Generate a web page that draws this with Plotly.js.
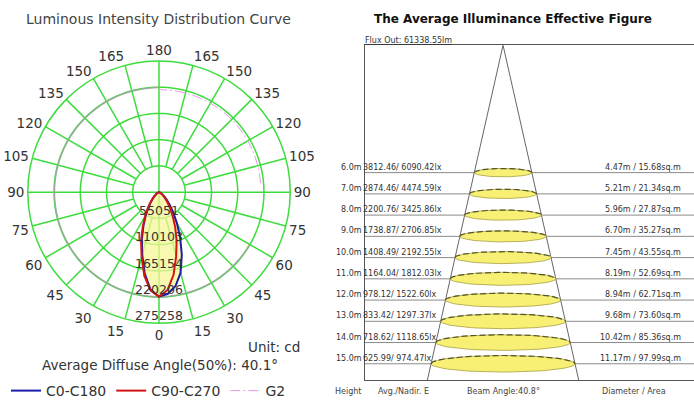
<!DOCTYPE html>
<html><head><meta charset="utf-8">
<script src="https://cdn.plot.ly/plotly-3.0.1.min.js"></script>
<style>html,body{margin:0;padding:0;background:#fff}#chart{width:694px;height:407px}</style>
</head><body><div id="chart"></div><script>
// ---------- Luminous intensity data (cd) ----------
const angles   = [0,5,10,15,20,25,30,35,40,45,50,55,60,65,70,75,80,85,90];
const c0Side   = [219255,214000,200000,175000,140000,105000,75000,52000,35000,23000,15000,9000,5000,2800,1300,500,200,60,0];
const c180Side = [219255,205000,173000,136000,105000,77000,55000,38000,26000,17000,11000,7000,4000,2200,1000,400,150,40,0];
const c90Side  = [219255,206000,176000,139000,108000,80000,57000,40000,27000,18000,12000,7500,4500,2500,1200,500,200,50,0];
const c270Side = [219255,207000,178000,141000,110000,81000,58000,41000,28000,18500,12000,7500,4500,2500,1200,500,200,50,0];
const g2Angles = [95,100,105,110,115,120,125,130,135,140,145,150,155,160,165,170,175,180];
const g2Values = [214000,214200,214500,214800,215000,215200,215400,215500,215600,215600,215600,215500,215400,215300,215200,215100,215000,215000];
const peakIntensity = 219255;
const ringValues = [55051,110103,165154,220206,275258];
const angleTicks = [0,15,30,45,60,75,90,105,120,135,150,165,180,195,210,225,240,255,270,285,300,315,330,345];
const angleTickText = ['0','15','30','45','60','75','90','105','120','135','150','165','180','165','150','135','120','105','90','75','60','45','30','15'];
const diffuseAngle = 40.1;

// ---------- Illuminance data ----------
const heights   = [6,7,8,9,10,11,12,13,14,15];
const avgLux    = [3812.46,2874.46,2200.76,1738.87,1408.49,1164.04,978.12,833.42,718.62,625.99];
const nadirLux  = [6090.42,4474.59,3425.86,2706.85,2192.55,1812.03,1522.60,1297.37,1118.65,974.47];
const diameters = [4.47,5.21,5.96,6.70,7.45,8.19,8.94,9.68,10.42,11.17];
const areas     = [15.68,21.34,27.87,35.27,43.55,52.69,62.71,73.60,85.36,97.99];
const beamAngle = 40.8;
const fluxOut   = 61338.55;

// ---------- styling ----------
const FONT = 'DejaVu Sans, Verdana, sans-serif';
const GREEN = '#3ddc3d';
const W = 694, H = 407;
const rMax = ringValues[ringValues.length-1];
const px = v => v / W;
const py = v => 1 - v / H;

const traces = [];
// polar grid: spokes
const spR = [], spT = [];
angleTicks.forEach(a => {
  const r0 = (a % 90 === 0) ? 0 : ringValues[0];
  spR.push(r0, rMax, null); spT.push(a, a, null);
});
traces.push({type:'scatterpolar', mode:'lines', r:spR, theta:spT, line:{color:GREEN, width:1.5}, showlegend:false, hoverinfo:'skip'});
// rings
const ringTheta = Array.from({length:121}, (_, i) => i * 3);
ringValues.slice(0, 4).forEach(v => {
  traces.push({type:'scatterpolar', mode:'lines', r:ringTheta.map(() => v), theta:ringTheta, line:{color:GREEN, width:1.5}, showlegend:false, hoverinfo:'skip'});
});
// gray peak circle
const grayTheta = Array.from({length:81}, (_, i) => -180 + i * 3);
traces.push({type:'scatterpolar', mode:'lines', r:grayTheta.map(() => peakIntensity), theta:grayTheta, line:{color:'rgba(165,165,165,0.85)', width:1.5}, showlegend:false, hoverinfo:'skip'});

// curves: C0 on right (+theta), C180 on left (-theta)
function lobe(rightVals, leftVals) {
  const th = [], r = [];
  for (let i = angles.length - 1; i >= 0; i--) { th.push(-angles[i]); r.push(leftVals[i]); }
  for (let i = 1; i < angles.length; i++) { th.push(angles[i]); r.push(rightVals[i]); }
  return {th, r};
}
const blue = lobe(c0Side, c180Side);
const red = lobe(c90Side, c270Side);
traces.push({type:'scatterpolar', mode:'lines', r:blue.r, theta:blue.th, fill:'toself', fillcolor:'rgba(246,246,150,0.75)', line:{width:0}, showlegend:false, hoverinfo:'skip'});
traces.push({type:'scatterpolar', mode:'lines', name:'C0-C180', r:blue.r, theta:blue.th, line:{color:'#1c1caa', width:2}});
traces.push({type:'scatterpolar', mode:'lines', name:'C90-C270', r:red.r, theta:red.th, line:{color:'#d41414', width:2}});
traces.push({type:'scatterpolar', mode:'lines', name:'G2', r:g2Values, theta:g2Angles, line:{color:'#e49ae4', width:1, dash:'10px,3px,2px,3px'}});
// radial labels
traces.push({type:'scatterpolar', mode:'text', r:ringValues.map(v => v - 0.24 * ringValues[0]), theta:ringValues.map(() => 0),
  text:ringValues.map(String), textfont:{family:FONT, size:12.5, color:'#333'}, showlegend:false, hoverinfo:'skip'});

// ---------- right figure ----------
const yBottom = 15.78;
const halfTan = Math.tan(beamAngle / 2 * Math.PI / 180);
const xRange = [-10.7, 14.8];
// row lines
const rowX = [], rowY = [];
heights.forEach(h => { rowX.push(xRange[0], xRange[1], null); rowY.push(h, h, null); });
traces.push({type:'scatter', mode:'lines', x:rowX, y:rowY, xaxis:'x', yaxis:'y', line:{color:'#8a8a8a', width:1}, showlegend:false, hoverinfo:'skip'});
// cone
traces.push({type:'scatter', mode:'lines', x:[-halfTan*yBottom, 0, halfTan*yBottom], y:[yBottom, 0, yBottom], xaxis:'x', yaxis:'y', line:{color:'#666', width:1}, showlegend:false, hoverinfo:'skip'});
// ellipses
const tt = Array.from({length:73}, (_, i) => i * Math.PI / 36);
heights.forEach((h, i) => {
  const a = diameters[i] / 2;
  const b = (1.5 + 0.62 * diameters[i]) / 21.6;
  traces.push({type:'scatter', mode:'lines', x:tt.map(t => a*Math.cos(t)), y:tt.map(t => h + b*Math.sin(t)), fill:'toself', fillcolor:'#f8f074',
    xaxis:'x', yaxis:'y', line:{color:'#a8a040', width:0.8}, showlegend:false, hoverinfo:'skip'});
  const top = tt.filter(t => t >= Math.PI - 1e-9);
  traces.push({type:'scatter', mode:'lines', x:top.map(t => a*Math.cos(t)), y:top.map(t => h + b*Math.sin(t)),
    xaxis:'x', yaxis:'y', line:{color:'#55552a', width:1.2, dash:'6px,3px'}, showlegend:false, hoverinfo:'skip'});
});

const ann = [];
const t8 = {family:FONT, size:8, color:'#333'};
heights.forEach((h, i) => {
  ann.push({xref:'paper', yref:'y', x:px(363), y:h, xanchor:'right', yanchor:'bottom', showarrow:false, text:h.toFixed(1)+'m', font:t8, borderpad:0});
  ann.push({xref:'paper', yref:'y', x:px(362), y:h, xanchor:'left', yanchor:'bottom', showarrow:false, text:avgLux[i].toFixed(2)+'/ '+nadirLux[i].toFixed(2)+'lx', font:t8, borderpad:0});
  ann.push({xref:'paper', yref:'y', x:px(682), y:h, xanchor:'right', yanchor:'bottom', showarrow:false, text:diameters[i].toFixed(2)+'m / '+areas[i].toFixed(2)+'sq.m', font:t8, borderpad:0});
});
const t8g = {family:FONT, size:8, color:'#444'};
ann.push({xref:'paper', yref:'paper', x:px(333), y:py(398), xanchor:'left', yanchor:'middle', showarrow:false, text:'Height', font:t8g});
ann.push({xref:'paper', yref:'paper', x:px(376), y:py(398), xanchor:'left', yanchor:'middle', showarrow:false, text:'Avg./Nadir. E', font:t8g});
ann.push({xref:'paper', yref:'paper', x:px(465), y:py(398), xanchor:'left', yanchor:'middle', showarrow:false, text:'Beam Angle:'+beamAngle.toFixed(1)+'°', font:t8g});
ann.push({xref:'paper', yref:'paper', x:px(600), y:py(398), xanchor:'left', yanchor:'middle', showarrow:false, text:'Diameter / Area', font:t8g});
ann.push({xref:'paper', yref:'paper', x:px(363), y:py(41), xanchor:'left', yanchor:'middle', showarrow:false, text:'Flux Out: '+fluxOut.toFixed(2)+'lm', font:{family:FONT, size:8, color:'#333', lineposition:'under'}});
// titles & notes
ann.push({xref:'paper', yref:'paper', x:px(158), y:py(19), xanchor:'center', yanchor:'middle', showarrow:false, text:'Luminous Intensity Distribution Curve', font:{family:FONT, size:14, color:'#444'}});
ann.push({xref:'paper', yref:'paper', x:px(513), y:py(19), xanchor:'center', yanchor:'middle', showarrow:false, text:'<b>The Average Illuminance Effective Figure</b>', font:{family:FONT, size:12, color:'#111'}});
ann.push({xref:'paper', yref:'paper', x:px(302), y:py(353), xanchor:'right', yanchor:'middle', showarrow:false, text:'Unit: cd', font:{family:FONT, size:13.5, color:'#333'}});
ann.push({xref:'paper', yref:'paper', x:px(160), y:py(371), xanchor:'center', yanchor:'middle', showarrow:false, text:'Average Diffuse Angle(50%): '+diffuseAngle.toFixed(1)+'°', font:{family:FONT, size:13.5, color:'#333'}});

const layout = {
  width:W, height:H, margin:{l:0, r:0, t:0, b:0}, paper_bgcolor:'#fff', plot_bgcolor:'#fff',
  font:{family:FONT, color:'#333'},
  showlegend:true,
  legend:{orientation:'h', x:px(6), y:py(382), xanchor:'left', yanchor:'top', font:{family:FONT, size:14, color:'#333'}, bgcolor:'rgba(0,0,0,0)', itemwidth:30, tracegroupgap:0},
  polar:{
    domain:{x:[px(26), px(292)], y:[py(329), py(62)]},
    bgcolor:'#fff',
    radialaxis:{range:[0, rMax], visible:false},
    angularaxis:{rotation:270, direction:'counterclockwise', tickmode:'array', tickvals:angleTicks, ticktext:angleTickText,
      showgrid:false, showline:true, linecolor:GREEN, linewidth:1.5, ticks:'', tickfont:{family:FONT, size:13.5, color:'#333'}}
  },
  xaxis:{domain:[px(365), 1], range:xRange, showgrid:false, zeroline:false, showticklabels:false, ticks:'', showline:true, mirror:true, linecolor:'#555', linewidth:1},
  yaxis:{domain:[py(387), py(46)], range:[yBottom, 0], showgrid:false, zeroline:false, showticklabels:false, ticks:'', showline:true, linecolor:'#555', linewidth:1},
  annotations:ann
};
Plotly.newPlot('chart', traces, layout, {staticPlot:true, displayModeBar:false});
</script></body></html>
